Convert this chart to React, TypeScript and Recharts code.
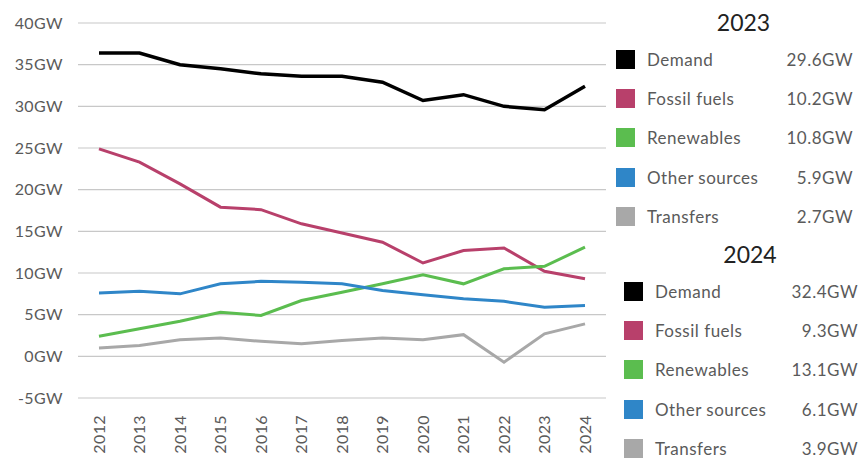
import { LineChart, Line, XAxis, YAxis, CartesianGrid } from 'recharts';

const years = ['2012', '2013', '2014', '2015', '2016', '2017', '2018', '2019', '2020', '2021', '2022', '2023', '2024'];
const demand = [36.4, 36.4, 35.0, 34.5, 33.9, 33.6, 33.6, 32.9, 30.7, 31.4, 30.0, 29.6, 32.4];
const fossilFuels = [24.9, 23.3, 20.7, 17.9, 17.6, 15.9, 14.8, 13.7, 11.2, 12.7, 13.0, 10.2, 9.3];
const renewables = [2.4, 3.3, 4.2, 5.3, 4.9, 6.7, 7.7, 8.7, 9.8, 8.7, 10.5, 10.8, 13.1];
const otherSources = [7.6, 7.8, 7.5, 8.7, 9.0, 8.9, 8.7, 7.9, 7.4, 6.9, 6.6, 5.9, 6.1];
const transfers = [1.0, 1.3, 2.0, 2.2, 1.8, 1.5, 1.9, 2.2, 2.0, 2.6, -0.7, 2.7, 3.9];
const yTicks = [-5, 0, 5, 10, 15, 20, 25, 30, 35, 40];

const series = [
	{ key: 'demand', name: 'Demand', color: '#000000', values: demand, width: 3.5 },
	{ key: 'fossil', name: 'Fossil fuels', color: '#b8406b', values: fossilFuels, width: 3 },
	{ key: 'renewables', name: 'Renewables', color: '#5bbd4f', values: renewables, width: 3 },
	{ key: 'other', name: 'Other sources', color: '#2f86c8', values: otherSources, width: 3 },
	{ key: 'transfers', name: 'Transfers', color: '#a8a8a8', values: transfers, width: 3 },
];

const data = years.map((year, i) => {
	const row: Record<string, string | number> = { year };
	series.forEach((s) => {
		row[s.key] = s.values[i];
	});
	return row;
});

const FONT = 'Lato, "Open Sans", sans-serif';

function YearTick({ x, y, payload }: any) {
	return (
		<g transform={`translate(${x},${y})`}>
			<text
				transform="rotate(-90)"
				x={-15}
				dy="0.36em"
				textAnchor="end"
				fill="#5a5a5a"
				fontSize={16}
				fontFamily={FONT}
				letterSpacing={0.4}
			>
				{payload.value}
			</text>
		</g>
	);
}

function LegendBlock({ year, top, left, right }: { year: string; top: number; left: number; right: number }) {
	const idx = years.indexOf(year);
	return (
		<div style={{ position: 'absolute', top, left, width: right - left, fontFamily: FONT }}>
			<div style={{ textAlign: 'center', fontSize: 23, color: '#222', height: 36, lineHeight: '36px', paddingLeft: 18 }}>
				{year}
			</div>
			{series.map((s) => (
				<div key={s.key} style={{ display: 'flex', alignItems: 'center', height: 39.2 }}>
					<div style={{ width: 19, height: 19, background: s.color, marginRight: 12, flexShrink: 0 }} />
					<div style={{ flex: 1, fontSize: 17, color: '#5a5a5a', letterSpacing: 0.5 }}>{s.name}</div>
					<div style={{ fontSize: 17, color: '#5a5a5a', letterSpacing: 0.5 }}>{s.values[idx].toFixed(1)}GW</div>
				</div>
			))}
		</div>
	);
}

export default function App() {
	return (
		<div style={{ position: 'absolute', left: 0, top: 0, width: 867, height: 467, background: '#fff' }}>
			<LineChart width={867} height={467} data={data} margin={{ top: 23, right: 261, bottom: 0, left: 0 }}>
				<CartesianGrid vertical={false} stroke="#c8c8c8" strokeWidth={1.2} />
				<XAxis
					dataKey="year"
					axisLine={false}
					tickLine={false}
					tickSize={0}
					height={69}
					interval={0}
					padding={{ left: 21, right: 21 }}
					tick={<YearTick />}
				/>
				<YAxis
					domain={[-5, 40]}
					ticks={yTicks}
					interval={0}
					width={78}
					axisLine={false}
					tickLine={false}
					tickSize={0}
					tickMargin={15}
					tickFormatter={(v) => `${v}GW`}
					tick={{ fill: '#5a5a5a', fontSize: 16, fontFamily: FONT, letterSpacing: 0.4 }}
				/>
				{series.map((s) => (
					<Line
						key={s.key}
						type="linear"
						dataKey={s.key}
						name={s.name}
						stroke={s.color}
						strokeWidth={s.width}
						dot={false}
						activeDot={false}
						isAnimationActive={false}
					/>
				))}
			</LineChart>
			<LegendBlock year="2023" top={4} left={616} right={853} />
			<LegendBlock year="2024" top={236} left={624} right={858} />
		</div>
	);
}
